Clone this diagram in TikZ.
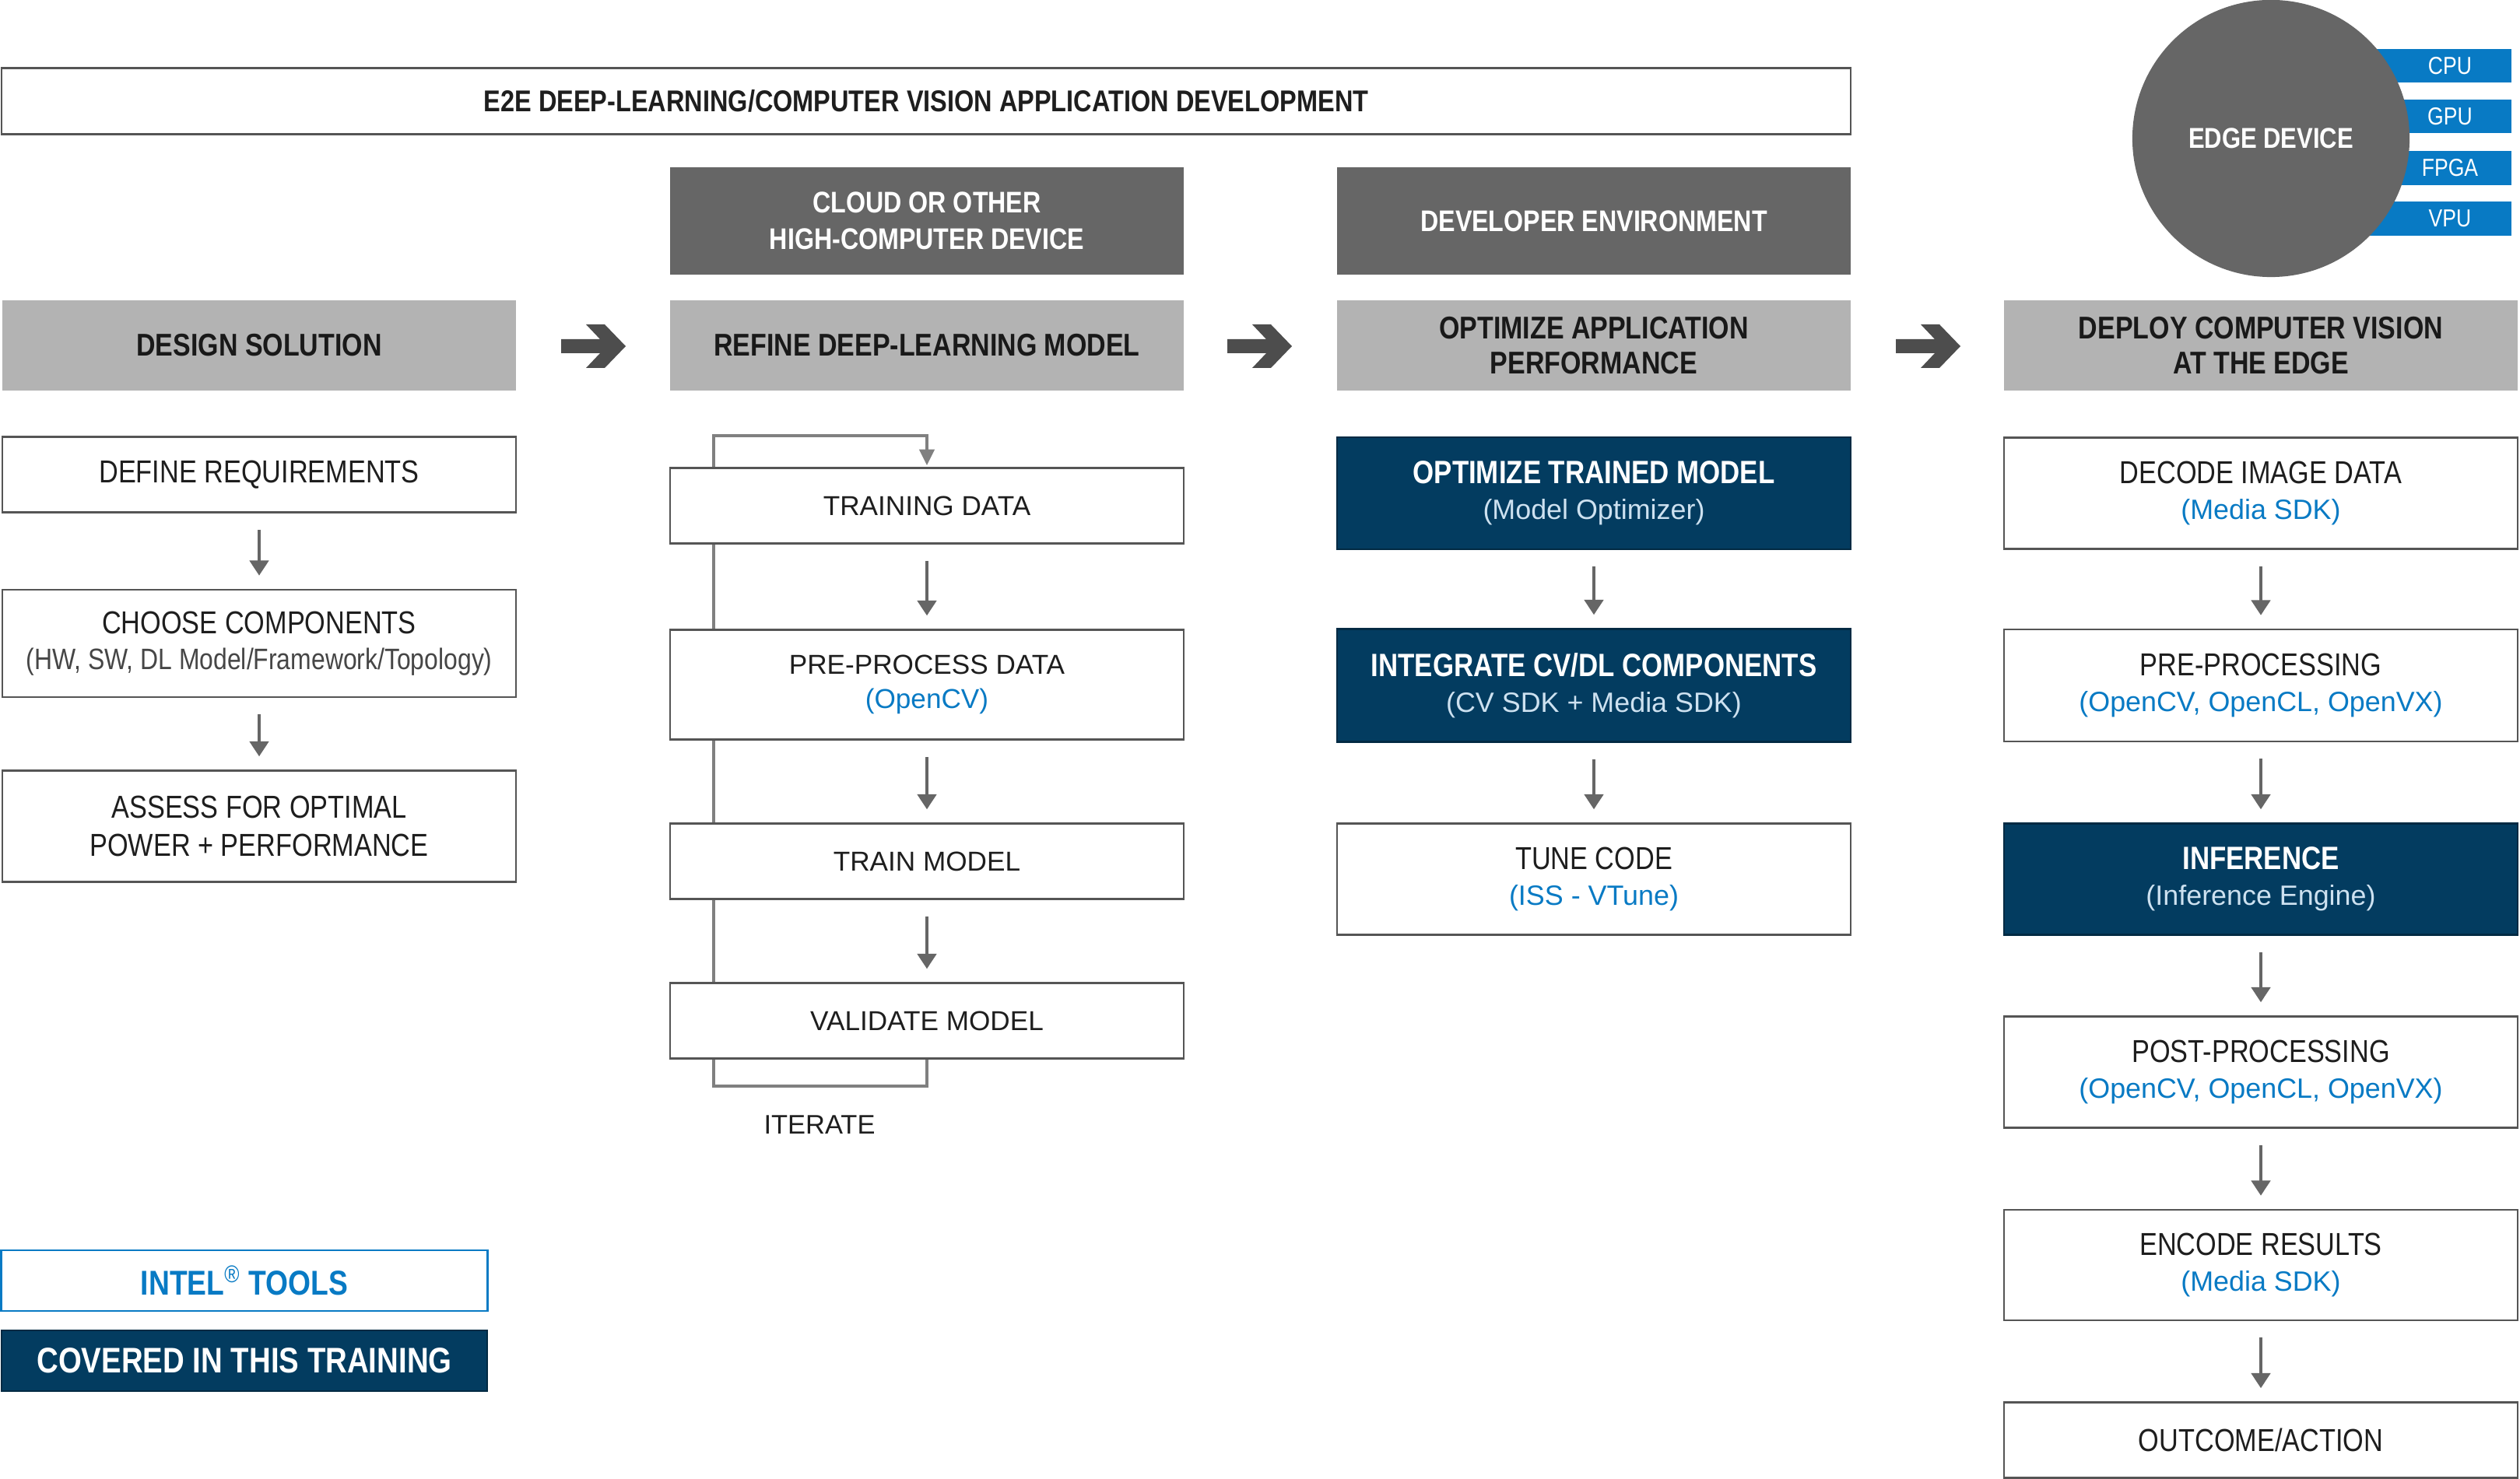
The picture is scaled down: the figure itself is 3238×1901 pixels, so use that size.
\documentclass[tikz,border=0pt]{standalone}
\usepackage{fontspec}
\setmainfont{Liberation Sans}[FakeStretch=0.84]
\newfontfamily\widef{Liberation Sans}
\usetikzlibrary{arrows.meta,backgrounds}
\pgfdeclarelayer{bottom}
\pgfsetlayers{bottom,background,main}
\definecolor{navy}{RGB}{3,60,96}
\definecolor{iblue}{RGB}{8,122,196}
\definecolor{lgray}{RGB}{179,179,179}
\definecolor{dgray}{RGB}{102,102,102}
\definecolor{bgray}{RGB}{85,85,85}
\definecolor{agray}{RGB}{102,102,102}
\definecolor{lpgray}{RGB}{128,128,128}
\definecolor{txt}{RGB}{30,30,30}
\definecolor{subnav}{RGB}{205,225,240}
\definecolor{subgray}{RGB}{70,70,70}
\definecolor{arrdark}{RGB}{77,77,77}
\newcommand\mysub{\fontsize{10.8}{13}\selectfont}
\newcommand\mywsub{\widef\fontsize{10.2}{12.5}\selectfont}
\tikzset{
  wbox/.style={draw=bgray, line width=0.7pt, fill=white, minimum width=6.6cm, inner sep=0pt,
    align=center, text=txt, font=\fontsize{11.6}{14}\selectfont},
  wwbox/.style={wbox, font=\widef\fontsize{10}{13.5}\selectfont},
  nbox/.style={draw=navy!70!black, line width=0.7pt, fill=navy, minimum width=6.6cm, inner sep=0pt,
    align=center, text=white, font=\bfseries\fontsize{11.8}{14}\selectfont},
  hdr/.style={fill=lgray, minimum width=6.6cm, minimum height=1.16cm, inner sep=0pt,
    align=center, text=black!90, font=\bfseries\fontsize{11.5}{13}\selectfont},
  dhdr/.style={fill=dgray, minimum width=6.6cm, minimum height=1.38cm, inner sep=0pt,
    align=center, text=white, font=\bfseries\fontsize{10.9}{13.2}\selectfont},
  arr/.style={draw=agray, line width=0.9pt, -{Triangle[width=7pt,length=5.5pt]},
    shorten <=0.21cm, shorten >=0.17cm},
  looparr/.style={draw=lpgray, line width=1.2pt},
  bar/.style={fill=iblue, minimum width=2.4cm, minimum height=0.43cm, inner sep=0pt},
  bartext/.style={text=white, font=\fontsize{9}{11}\selectfont, inner sep=0pt},
  bigarrow/.pic={\fill[arrdark] (0,-9)--(50,-9)--(32,-28)--(56,-28)--(83,0)--(56,28)--(32,28)--(50,9)--(0,9)--cycle;}
}
\begin{document}
\begin{tikzpicture}[x=0.01cm,y=-0.01cm]
\begin{pgfonlayer}{bottom}
\fill[white] (0,0) rectangle (3238,1901);
\end{pgfonlayer}
\useasboundingbox (0,0) rectangle (3238,1901);

% top banner
\node[draw=bgray, line width=0.7pt, minimum width=23.75cm, minimum height=0.85cm, inner sep=0pt,
  font=\bfseries\fontsize{11}{13}\selectfont, text=txt] (banner) at (1190,130)
  {E2E DEEP-LEARNING/COMPUTER VISION APPLICATION DEVELOPMENT};

% edge device
\node[bar] (cpu)  at (3107,85)  {};
\node[bar] (gpu)  at (3107,150) {};
\node[bar] (fpga) at (3107,216) {};
\node[bar] (vpu)  at (3107,281) {};
\node[bartext] (cput)  at (3148,85)  {CPU};
\node[bartext] (gput)  at (3148,150) {GPU};
\node[bartext] (fpgat) at (3148,216) {FPGA};
\node[bartext] (vput)  at (3148,281) {VPU};
\node[circle, fill=dgray, minimum size=3.56cm, inner sep=0pt, text=white,
  font=\bfseries\fontsize{10.5}{12}\selectfont] (edge) at (2918,178) {EDGE DEVICE};

% dark headers
\node[dhdr] (cloud) at (1191,284) {CLOUD OR OTHER\\HIGH-COMPUTER DEVICE};
\node[dhdr] (devenv) at (2048,284) {DEVELOPER ENVIRONMENT};

% column headers
\node[hdr] (h1) at (333,444) {DESIGN SOLUTION};
\node[hdr] (h2) at (1191,444) {REFINE DEEP-LEARNING MODEL};
\node[hdr] (h3) at (2048,444) {OPTIMIZE APPLICATION\\PERFORMANCE};
\node[hdr] (h4) at (2905,444) {DEPLOY COMPUTER VISION\\AT THE EDGE};

\pic at (721,445) {bigarrow};
\pic at (1577,445) {bigarrow};
\pic at (2436,445) {bigarrow};

% column 1
\node[wbox, minimum height=0.97cm] (def) at (333,610) {DEFINE REQUIREMENTS};
\node[wbox, minimum height=1.38cm] (choose) at (333,827)
  {CHOOSE COMPONENTS\\[-1pt]{\mysub\color{subgray}(HW, SW, DL Model/Framework/Topology)}};
\node[wbox, minimum height=1.43cm] (assess) at (333,1062) {ASSESS FOR OPTIMAL\\POWER + PERFORMANCE};
\draw[arr] (def) -- (choose);
\draw[arr] (choose) -- (assess);

% column 2
\node[wwbox, minimum height=0.97cm] (tdata) at (1191,650) {TRAINING DATA};
\node[wwbox, minimum height=1.41cm] (prep) at (1191,880)
  {PRE-PROCESS DATA\\[-1pt]{\color{iblue}(OpenCV)}};
\node[wwbox, minimum height=0.97cm] (tmodel) at (1191,1107) {TRAIN MODEL};
\node[wwbox, minimum height=0.97cm] (vmodel) at (1191,1312) {VALIDATE MODEL};
\draw[arr] (tdata) -- (prep);
\draw[arr] (prep) -- (tmodel);
\draw[arr] (tmodel) -- (vmodel);
\coordinate (lb) at (917,1396);
\coordinate (lt) at (917,560);
\begin{scope}[on background layer]
\draw[looparr] (vmodel.south) |- (lb) -- (lt) -| ([yshift=0.1cm]tdata.north);
\end{scope}
\draw[draw=lpgray, fill=lpgray] ([yshift=0.04cm]tdata.north) -- ++(-9,-18) -- ++(18,0) -- cycle;
\node[font=\widef\fontsize{9.8}{12}\selectfont, text=txt, inner sep=0pt] (iter) at (1053,1446) {ITERATE};

% column 3
\node[nbox, minimum height=1.44cm] (opt) at (2048,634)
  {OPTIMIZE TRAINED MODEL\\[-1pt]{\mdseries\mywsub\color{subnav}(Model Optimizer)}};
\node[nbox, minimum height=1.45cm] (integ) at (2048,881)
  {INTEGRATE CV/DL COMPONENTS\\[-1pt]{\mdseries\mywsub\color{subnav}(CV SDK + Media SDK)}};
\node[wbox, minimum height=1.43cm] (tune) at (2048,1130)
  {TUNE CODE\\[-1pt]{\mywsub\color{iblue}(ISS - VTune)}};
\draw[arr] (opt) -- (integ);
\draw[arr] (integ) -- (tune);

% column 4
\node[wbox, minimum height=1.43cm] (decode) at (2905,634)
  {DECODE IMAGE DATA\\[-1pt]{\mywsub\color{iblue}(Media SDK)}};
\node[wbox, minimum height=1.44cm] (preproc) at (2905,881)
  {PRE-PROCESSING\\[-1pt]{\mywsub\color{iblue}(OpenCV, OpenCL, OpenVX)}};
\node[nbox, minimum height=1.43cm] (infer) at (2905,1130)
  {INFERENCE\\[-1pt]{\mdseries\mywsub\color{subnav}(Inference Engine)}};
\node[wbox, minimum height=1.43cm] (post) at (2905,1378)
  {POST-PROCESSING\\[-1pt]{\mywsub\color{iblue}(OpenCV, OpenCL, OpenVX)}};
\node[wbox, minimum height=1.42cm] (encode) at (2905,1626)
  {ENCODE RESULTS\\[-1pt]{\mywsub\color{iblue}(Media SDK)}};
\node[wbox, minimum height=0.97cm] (outcome) at (2905,1851) {OUTCOME/ACTION};
\draw[arr] (decode) -- (preproc);
\draw[arr] (preproc) -- (infer);
\draw[arr] (infer) -- (post);
\draw[arr] (post) -- (encode);
\draw[arr] (encode) -- (outcome);

% legend
\node[draw=iblue, line width=0.8pt, fill=white, minimum width=6.24cm, minimum height=0.78cm, inner sep=0pt,
  text=iblue, font=\bfseries\fontsize{12.6}{14}\selectfont] (intel) at (314,1646)
  {INTEL\textsuperscript{\mdseries ®} TOOLS};
\node[draw=navy!70!black, line width=0.7pt, fill=navy, minimum width=6.24cm, minimum height=0.78cm, inner sep=0pt,
  text=white, font=\bfseries\fontsize{13}{15}\selectfont] (covered) at (314,1749)
  {COVERED IN THIS TRAINING};
\end{tikzpicture}
\end{document}
